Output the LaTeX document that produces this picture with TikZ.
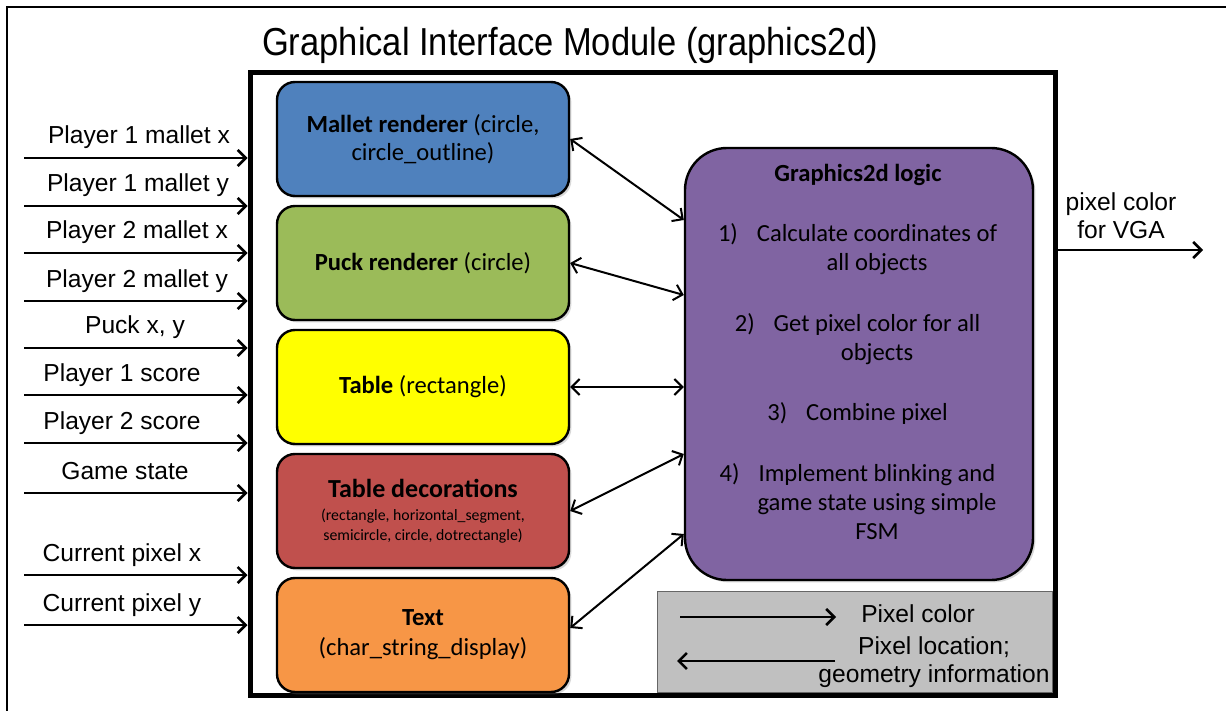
\documentclass[tikz,border=0pt]{standalone}
\usepackage{fontspec}
\setmainfont{Liberation Sans}
\newfontfamily\calibri{Carlito}
\usetikzlibrary{positioning,shadows,arrows.meta}

\definecolor{malletblue}{RGB}{79,129,189}
\definecolor{puckgreen}{RGB}{155,187,89}
\definecolor{tableyellow}{RGB}{255,255,0}
\definecolor{decored}{RGB}{192,80,77}
\definecolor{charorange}{RGB}{247,150,70}
\definecolor{logicpurple}{RGB}{128,100,162}
\definecolor{legendgray}{RGB}{192,192,192}

\tikzset{
  softshadow/.style={drop shadow={opacity=0.3,shadow xshift=1.2pt,shadow yshift=-1.2pt}},
  renderer/.style={draw,line width=1.2pt,rounded corners=9pt,minimum width=146pt,minimum height=57pt,
    align=center,font=\calibri\fontsize{12.3}{14}\selectfont,softshadow},
  sig/.style={font=\fontsize{12.3}{14}\selectfont,anchor=base},
  inarrow/.style={line width=1.3pt,-{Straight Barb[length=4pt,width=8pt]}},
  link/.style={line width=1pt,{Straight Barb[length=4pt,width=8pt]}-{Straight Barb[length=4pt,width=8pt]}},
}

\begin{document}
\begin{tikzpicture}[x=0.5pt,y=-0.5pt]
\useasboundingbox (0,0) rectangle (1226,711);

% page frame
\draw[line width=1pt] (7,711) -- (7,7) -- (1226,7);

\node[font=\fontsize{19.5}{22}\selectfont] (title) at (570,45) {\scalebox{0.885}[1]{Graphical Interface Module (graphics2d)}};

\node[draw,line width=2.5pt,fill=white,minimum width=402.5pt,minimum height=311pt,softshadow] (module) at (652.5,384) {};

% renderers
\node[renderer,fill=malletblue] (mallet) at (423,139) {\textbf{Mallet renderer} (circle,\\circle\_outline)};
\node[renderer,fill=puckgreen,below=3.8pt of mallet] (puck) {\textbf{Puck renderer} (circle)};
\node[renderer,fill=tableyellow,below=3.8pt of puck] (table) {\textbf{Table} (rectangle)};
\node[renderer,fill=decored,below=3.8pt of table] (deco) {{\fontsize{13}{14}\selectfont\textbf{Table decorations}}\\[-2.5pt]
  {\fontsize{7.9}{10}\selectfont(rectangle, horizontal\_segment,}\\[-4pt]
  {\fontsize{7.9}{10}\selectfont semicircle, circle, dotrectangle)}};
\node[renderer,fill=charorange,below=3.8pt of deco] (chars) {\textbf{Text}\\[1pt](char\_string\_display)};

% logic
\node[draw,line width=1.2pt,fill=logicpurple,rounded corners=21pt,minimum width=174pt,minimum height=216pt,softshadow] (logic) at (859,364) {};
\node[align=center,font=\calibri\fontsize{12.3}{14.5}\selectfont] (steps) at (877,352) {%
  \textbf{Graphics2d logic}\rule{19pt}{0pt}\\[15.5pt]
  \llap{1)\hspace{9.5pt}}Calculate coordinates of\\all objects\\[16pt]
  \llap{2)\hspace{9.5pt}}Get pixel color for all\\objects\\[15.5pt]
  \llap{3)\hspace{9.5pt}}Combine pixel\\[16pt]
  \llap{4)\hspace{9.5pt}}Implement blinking and\\game state using simple\\FSM};

\draw[link] (mallet.east) -- ([yshift=72pt]logic.west);
\draw[link] (puck.east) -- ([yshift=34.5pt]logic.west);
\draw[link] (table.east) -- (table.east -| logic.west);
\draw[link] (deco.east) -- ([yshift=-45pt]logic.west);
\draw[link] ([yshift=3.5pt]chars.east) -- ([yshift=-85pt]logic.west);

% inputs
\foreach \y/\lx/\txt [count=\i] in {158/139/Player 1 mallet x,206/138/Player 1 mallet y,
    253/137/Player 2 mallet x,301/137/Player 2 mallet y,348/135/{Puck x, y},
    395/122/Player 1 score,443/122/Player 2 score,493/125/Game state,
    575/122/Current pixel x,625/122/Current pixel y}{
  \coordinate (src\i) at (24,\y);
  \draw[inarrow] (src\i) -- (src\i -| module.west);
  \node[sig] (sig\i) at (\lx,\y-14) {\txt};
}

% output
\coordinate (vga) at (1203,250);
\draw[inarrow] (vga -| module.east) -- (vga);
\node[align=center,font=\fontsize{12.3}{14}\selectfont] (vgalabel) at (1121,216) {pixel color\\for VGA};

% legend
\node[draw=black!60,line width=0.5pt,fill=legendgray,minimum width=197.75pt,minimum height=50.75pt] (legend) at (854.75,641.75) {};
\node[font=\fontsize{12.3}{14}\selectfont] (colkey) at (918,614) {Pixel color};
\node[align=center,font=\fontsize{12.3}{14}\selectfont] (lockey) at (934,662) {Pixel location;\\geometry information};
\coordinate (colfrom) at (680,617);
\coordinate (colto) at (836,617);
\coordinate (locfrom) at (835,661);
\coordinate (locto) at (677,661);
\draw[inarrow] (colfrom) -- (colto);
\draw[inarrow] (locfrom) -- (locto);

\end{tikzpicture}
\end{document}
